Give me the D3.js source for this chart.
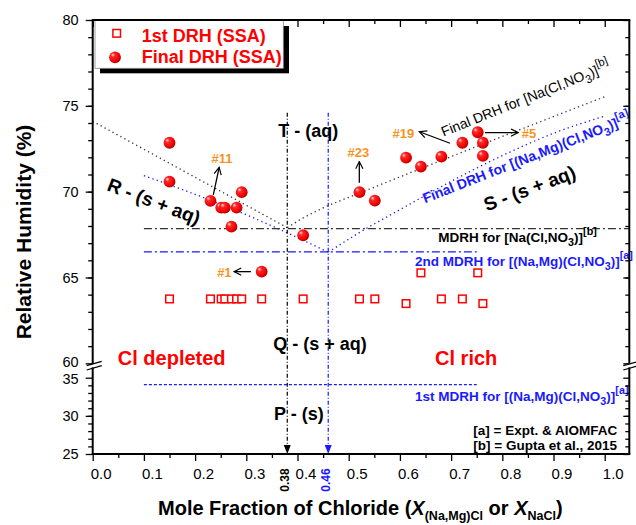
<!DOCTYPE html>
<html><head><meta charset="utf-8">
<script src="https://cdn.jsdelivr.net/npm/d3@7"></script>
<style>body{margin:0;background:#fff}svg{display:block}text{font-family:"Liberation Sans",Arial,sans-serif}</style>
</head><body><svg id="c" width="636" height="525"></svg>
<script>
// ---------- data ----------
const xTickValues = [0,0.1,0.2,0.3,0.4,0.5,0.6,0.7,0.8,0.9,1.0];
const xTickLabels = ["0.0","0.1","0.2","0.3","0.4","0.5","0.6","0.7","0.8","0.9","1.0"];
const yUpperTicks = [60,65,70,75,80];
const yLowerTicks = [25,30,35];

const finalDrhX = [0.150,0.150,0.230,0.251,0.258,0.281,0.291,0.271,0.411,0.330,0.521,0.551,0.612,0.641,0.681,0.722,0.752,0.762,0.762];
const finalDrhY = [72.85,70.58,69.46,69.07,69.07,69.07,69.97,67.96,67.46,65.34,69.97,69.48,71.98,71.46,72.04,72.85,73.46,72.85,72.08];
const firstDrhX = [0.150,0.230,0.251,0.258,0.271,0.281,0.291,0.330,0.411,0.521,0.551,0.612,0.641,0.681,0.722,0.752,0.762];
const firstDrhY = [63.75,63.75,63.75,63.75,63.75,63.75,63.75,63.75,63.75,63.75,63.75,63.48,65.27,63.75,63.75,65.27,63.48];

const naDrhLeft = [[0,74.1],[0.38,67.9]];
const naDrhRight = [[0.38,67.9],[0.41,68.45],[0.45,69.05],[0.52,69.9],[1.0,75.53]];
const naMgDrhLeft = [[0.1,70.93],[0.23,69.5],[0.36,67.87],[0.46,66.47]];
const naMgDrhRight = [[0.46,66.47],[0.52,67.6],[0.6,68.95],[0.7,70.6],[0.8,72.1],[0.9,73.4],[1.0,74.4]];
const naMdrh = {y:67.85, x0:0.1, x1:1.048};
const naMg2ndMdrh = {y:66.49, x0:0.1, x1:0.75};
const naMg1stMdrh = {y:34.1, x0:0.1, x1:0.75};
const eutonic = [{x:0.38, label:"0.38", c:"#000"},{x:0.46, label:"0.46", c:"#1a1aff"}];
const eutonicTop = 74.6;

const annotations = [
  {label:"#11", from:[0.2355,69.81], to:[0.247,71.42], lx:0.2525, ly:71.67, anchor:"middle"},
  {label:"#1",  from:[0.309,65.34], to:[0.276,65.34], lx:0.2713, ly:65.05, anchor:"end"},
  {label:"#23", from:[0.5207,70.52], to:[0.5207,71.75], lx:0.519, ly:72.04, anchor:"middle"},
  {label:"#19", from:[0.698,72.82], to:[0.638,73.49], lx:0.628, ly:73.13, anchor:"end"},
  {label:"#5",  from:[0.766,73.44], to:[0.831,73.44], lx:0.838, ly:73.13, anchor:"start"}
];

// ---------- scales ----------
const X0 = 92.7, X1 = 629.3, YT = 20, YB = 454;
const x = d3.scaleLinear().domain([0, 1.048]).range([X0, X1]);
const yU = d3.scaleLinear().domain([60, 80]).range([363.3, YT]);
const yL = d3.scaleLinear().domain([25, 35]).range([YB, 377.7]);

const BLUE = "#1a1aff", RED = "#ff0000", ORANGE = "#f7931e";
const svg = d3.select("#c");
const defs = svg.append("defs");
const grad = defs.append("radialGradient").attr("id","ball")
  .attr("cx","40%").attr("cy","40%").attr("r","62%").attr("fx","30%").attr("fy","28%");
grad.append("stop").attr("offset","0%").attr("stop-color","#ffe0e0");
grad.append("stop").attr("offset","28%").attr("stop-color","#ff2a2a");
grad.append("stop").attr("offset","78%").attr("stop-color","#f00000");
grad.append("stop").attr("offset","100%").attr("stop-color","#a80000");
defs.append("marker").attr("id","ah").attr("viewBox","0 0 10 10").attr("refX",9).attr("refY",5)
  .attr("markerWidth",9).attr("markerHeight",9).attr("markerUnits","userSpaceOnUse").attr("orient","auto")
  .append("path").attr("d","M1,1 L9,5 L1,9").attr("fill","none").attr("stroke","#000").attr("stroke-width",1.3);

function rich(sel, parts, fs) {
  let shift = 0;
  parts.forEach(p => {
    const t = p[0], m = p[1] || "";
    const target = m === "sub" ? fs*0.3 : m === "sup" ? -fs*0.5 : 0;
    sel.append("tspan").attr("dy", target - shift).attr("font-size", m ? fs*0.8 : fs).text(t);
    shift = target;
  });
  return sel;
}

// ---------- reference lines ----------
const lineU = d3.line().x(d=>x(d[0])).y(d=>yU(d[1])).curve(d3.curveMonotoneX);
const gl = svg.append("g").attr("fill","none");
[naDrhLeft, naDrhRight].forEach(d => gl.append("path").attr("d", lineU(d))
  .attr("stroke","#333").attr("stroke-width",1.3).attr("stroke-dasharray","1.3,3.2"));
[naMgDrhLeft, naMgDrhRight].forEach(d => gl.append("path").attr("d", lineU(d))
  .attr("stroke",BLUE).attr("stroke-width",1.3).attr("stroke-dasharray","1.3,3.2"));
gl.append("line").attr("x1",x(naMdrh.x0)).attr("x2",x(naMdrh.x1)).attr("y1",yU(naMdrh.y)).attr("y2",yU(naMdrh.y))
  .attr("stroke","#333").attr("stroke-width",1.2).attr("stroke-dasharray","8,3,2,3");
gl.append("line").attr("x1",x(naMg2ndMdrh.x0)).attr("x2",x(naMg2ndMdrh.x1)).attr("y1",yU(naMg2ndMdrh.y)).attr("y2",yU(naMg2ndMdrh.y))
  .attr("stroke",BLUE).attr("stroke-width",1.2).attr("stroke-dasharray","8,3,2,3");
gl.append("line").attr("x1",x(naMg1stMdrh.x0)).attr("x2",x(naMg1stMdrh.x1)).attr("y1",yL(naMg1stMdrh.y)).attr("y2",yL(naMg1stMdrh.y))
  .attr("stroke",BLUE).attr("stroke-width",1.2).attr("stroke-dasharray","3,2");
eutonic.forEach(e => {
  gl.append("line").attr("x1",x(e.x)).attr("x2",x(e.x)).attr("y1",yU(eutonicTop)).attr("y2",YB-6)
    .attr("stroke",e.c).attr("stroke-width",1.2).attr("stroke-dasharray","4,2,1,2");
  svg.append("path").attr("d",`M${x(e.x)-3.5},${YB-9}L${x(e.x)+3.5},${YB-9}L${x(e.x)},${YB}Z`).attr("fill",e.c);
  svg.append("text").attr("transform",`translate(${x(e.x)+1.5},${YB+26}) rotate(-90)`)
    .attr("text-anchor","middle").attr("font-size",12).attr("font-weight","bold").attr("fill",e.c).text(e.label);
});

// ---------- text labels ----------
const T = svg.append("g").attr("font-weight","bold");
function lab(px, py, txt, fs, fill, rot, extra) {
  const t = T.append("text").attr("transform",`translate(${px},${py}) rotate(${rot||0})`)
    .attr("font-size",fs).attr("fill",fill||"#000");
  if (Array.isArray(txt)) rich(t, txt, fs); else t.text(txt);
  if (extra) extra(t);
  return t;
}
lab(x(0.3625), yU(73.19), "T - (aq)", 18);
lab(x(0.3527), yU(60.78), "Q - (s + aq)", 18);
lab(x(0.354), yL(29.46), "P - (s)", 18);
lab(x(0.026), yU(70.1), "R - (s + aq)", 19, "#000", 21);
lab(x(0.7695), yU(68.84), "S - (s + aq)", 19, "#000", -20.6);
lab(x(0.049), yU(59.9), "Cl depleted", 20, RED);
lab(x(0.6686), yU(59.9), "Cl rich", 20, RED);
lab(x(0.685), yU(73.2), [["Final DRH for [Na(Cl,NO"],["3","sub"],[")]"],["[b]","sup"]], 14, "#000", -21.8, t=>t.attr("font-weight","normal"));
lab(x(0.649), yU(69.32), [["Final DRH for [(Na,Mg)(Cl,NO"],["3","sub"],[")]"],["[a]","sup"]], 14, BLUE, -21.5);
lab(x(0.675), yU(67.09), [["MDRH for [Na(Cl,NO"],["3","sub"],[")]"],["[b]","sup"]], 13.5, "#000");
lab(x(0.6295), yU(65.67), [["2nd MDRH for [(Na,Mg)(Cl,NO"],["3","sub"],[")]"],["[a]","sup"]], 13.5, BLUE);
lab(x(0.6295), yL(31.95), [["1st MDRH for [(Na,Mg)(Cl,NO"],["3","sub"],[")]"],["[a]","sup"]], 13.5, BLUE);
lab(x(0.7434), yL(27.49), "[a] = Expt. & AIOMFAC", 13.5);
lab(x(0.7434), yL(25.52), "[b] = Gupta et al., 2015", 13.5);

// ---------- markers ----------
const firstPts = firstDrhX.map((v,i)=>[v, firstDrhY[i]]);
const finalPts = finalDrhX.map((v,i)=>[v, finalDrhY[i]]);
svg.append("g").selectAll("rect").data(firstPts).join("rect")
  .attr("x",d=>x(d[0])-3.8).attr("y",d=>yU(d[1])-3.8).attr("width",7.6).attr("height",7.6)
  .attr("fill","#fff").attr("stroke",RED).attr("stroke-width",1.5);
svg.append("g").selectAll("circle").data(finalPts).join("circle")
  .attr("cx",d=>x(d[0])).attr("cy",d=>yU(d[1])).attr("r",5.9).attr("fill","url(#ball)");

// ---------- annotations ----------
const ga = svg.append("g");
annotations.forEach(a => {
  ga.append("line").attr("x1",x(a.from[0])).attr("y1",yU(a.from[1])).attr("x2",x(a.to[0])).attr("y2",yU(a.to[1]))
    .attr("stroke","#000").attr("stroke-width",1.3).attr("marker-end","url(#ah)");
  ga.append("text").attr("x",x(a.lx)).attr("y",yU(a.ly)).attr("text-anchor",a.anchor)
    .attr("font-size",13).attr("font-weight","bold").attr("fill",ORANGE).text(a.label);
});

// ---------- top ticks (inward) ----------
const minorX = d3.range(0.05,1.05,0.1);
svg.append("g").attr("transform",`translate(0,${YT})`).call(d3.axisBottom(x).tickValues(xTickValues).tickSize(7).tickFormat(""))
  .call(g=>g.select(".domain").remove()).selectAll("line").attr("stroke-width",1.3);
svg.append("g").attr("transform",`translate(0,${YT})`).call(d3.axisBottom(x).tickValues(minorX).tickSize(4).tickFormat(""))
  .call(g=>g.select(".domain").remove()).selectAll("line").attr("stroke-width",1.3);

// ---------- legend ----------
const lg = svg.append("g");
lg.append("rect").attr("x",100).attr("y",26).attr("width",189).attr("height",47.3).attr("fill","#000");
lg.append("rect").attr("x",95).attr("y",20).attr("width",188.3).attr("height",48.3).attr("fill","#fff").attr("stroke","#888").attr("stroke-width",0.8);
lg.append("rect").attr("x",112.9).attr("y",29.5).attr("width",7.6).attr("height",7.6).attr("fill","#fff").attr("stroke",RED).attr("stroke-width",1.5);
lg.append("circle").attr("cx",115).attr("cy",57.3).attr("r",5.9).attr("fill","url(#ball)");
lg.append("text").attr("x",141.7).attr("y",41.5).attr("font-size",18).attr("font-weight","bold").attr("fill",RED).text("1st DRH (SSA)");
lg.append("text").attr("x",141.7).attr("y",63.3).attr("font-size",18).attr("font-weight","bold").attr("fill",RED).text("Final DRH (SSA)");

// ---------- axes ----------
const ax = svg.append("g");
ax.append("g").attr("transform",`translate(0,${YB})`).call(d3.axisBottom(x).tickValues(xTickValues).tickSize(7).tickPadding(7).tickFormat((d,i)=>xTickLabels[i]))
  .call(g=>g.select(".domain").remove())
  .call(g=>g.selectAll("line").attr("stroke-width",1.3))
  .call(g=>g.selectAll("text").attr("font-size",15).attr("dx",8).attr("fill","#000").style("font-family","'Liberation Sans',Arial,sans-serif"));
ax.append("g").attr("transform",`translate(0,${YB})`).call(d3.axisBottom(x).tickValues(minorX).tickSize(4).tickFormat(""))
  .call(g=>g.select(".domain").remove()).selectAll("line").attr("stroke-width",1.3);
function yAxis(scale, major, minor, xpos, left, labels, nudge) {
  const g1 = ax.append("g").attr("transform",`translate(${xpos},0)`)
    .call(d3.axisLeft(scale).tickValues(major).tickSize(7).tickPadding(7).tickFormat(labels? d3.format("d") : ""));
  g1.select(".domain").remove();
  g1.selectAll("line").attr("stroke-width",1.3).attr("x2", left? -7 : -6);
  g1.selectAll("text").attr("font-size",14.5).attr("fill","#000").style("font-family","'Liberation Sans',Arial,sans-serif")
    .attr("y", d => nudge && nudge[d] ? nudge[d] : 0);
  const g2 = ax.append("g").attr("transform",`translate(${xpos},0)`)
    .call(d3.axisLeft(scale).tickValues(minor).tickSize(4).tickFormat(""));
  g2.select(".domain").remove();
  g2.selectAll("line").attr("stroke-width",1.3).attr("x2", left? -4.5 : -4);
}
yAxis(yU, yUpperTicks, d3.range(61,80), X0, true, true, {60:-1.5});
yAxis(yL, yLowerTicks, d3.range(26,35), X0, true, true, {35:1.5});
yAxis(yU, yUpperTicks, d3.range(61,80), X1, false, false);
yAxis(yL, yLowerTicks, d3.range(26,35), X1, false, false);
const fr = ax.append("g").attr("stroke","#000").attr("stroke-width",2);
fr.append("line").attr("x1",X0-1).attr("x2",X1+1).attr("y1",YB).attr("y2",YB);
fr.append("line").attr("x1",X0-1).attr("x2",X1+1).attr("y1",YT).attr("y2",YT);
[X0, X1].forEach(xx => {
  fr.append("line").attr("x1",xx).attr("x2",xx).attr("y1",YT).attr("y2",363.6);
  fr.append("line").attr("x1",xx).attr("x2",xx).attr("y1",367.4).attr("y2",YB);
  fr.append("line").attr("x1",xx-6).attr("y1",365.7).attr("x2",xx+9).attr("y2",361.4).attr("stroke-width",1.3);
  fr.append("line").attr("x1",xx-6).attr("y1",370).attr("x2",xx+9).attr("y2",365.7).attr("stroke-width",1.3);
});

// ---------- axis titles ----------
svg.append("text").attr("transform","translate(31,232) rotate(-90)").attr("text-anchor","middle")
  .attr("font-size",21).attr("font-weight","bold").text("Relative Humidity (%)");
const xt = svg.append("text").attr("x",158).attr("y",515).attr("font-size",20).attr("font-weight","bold");
xt.append("tspan").text("Mole Fraction of Chloride (");
xt.append("tspan").attr("font-style","italic").text("X");
xt.append("tspan").attr("font-size",12.5).attr("dy",5).text("(Na,Mg)Cl");
xt.append("tspan").attr("dy",-5).text(" or ");
xt.append("tspan").attr("font-style","italic").text("X");
xt.append("tspan").attr("font-size",12.5).attr("dy",5).text("NaCl");
xt.append("tspan").attr("dy",-5).text(")");
</script></body></html>
